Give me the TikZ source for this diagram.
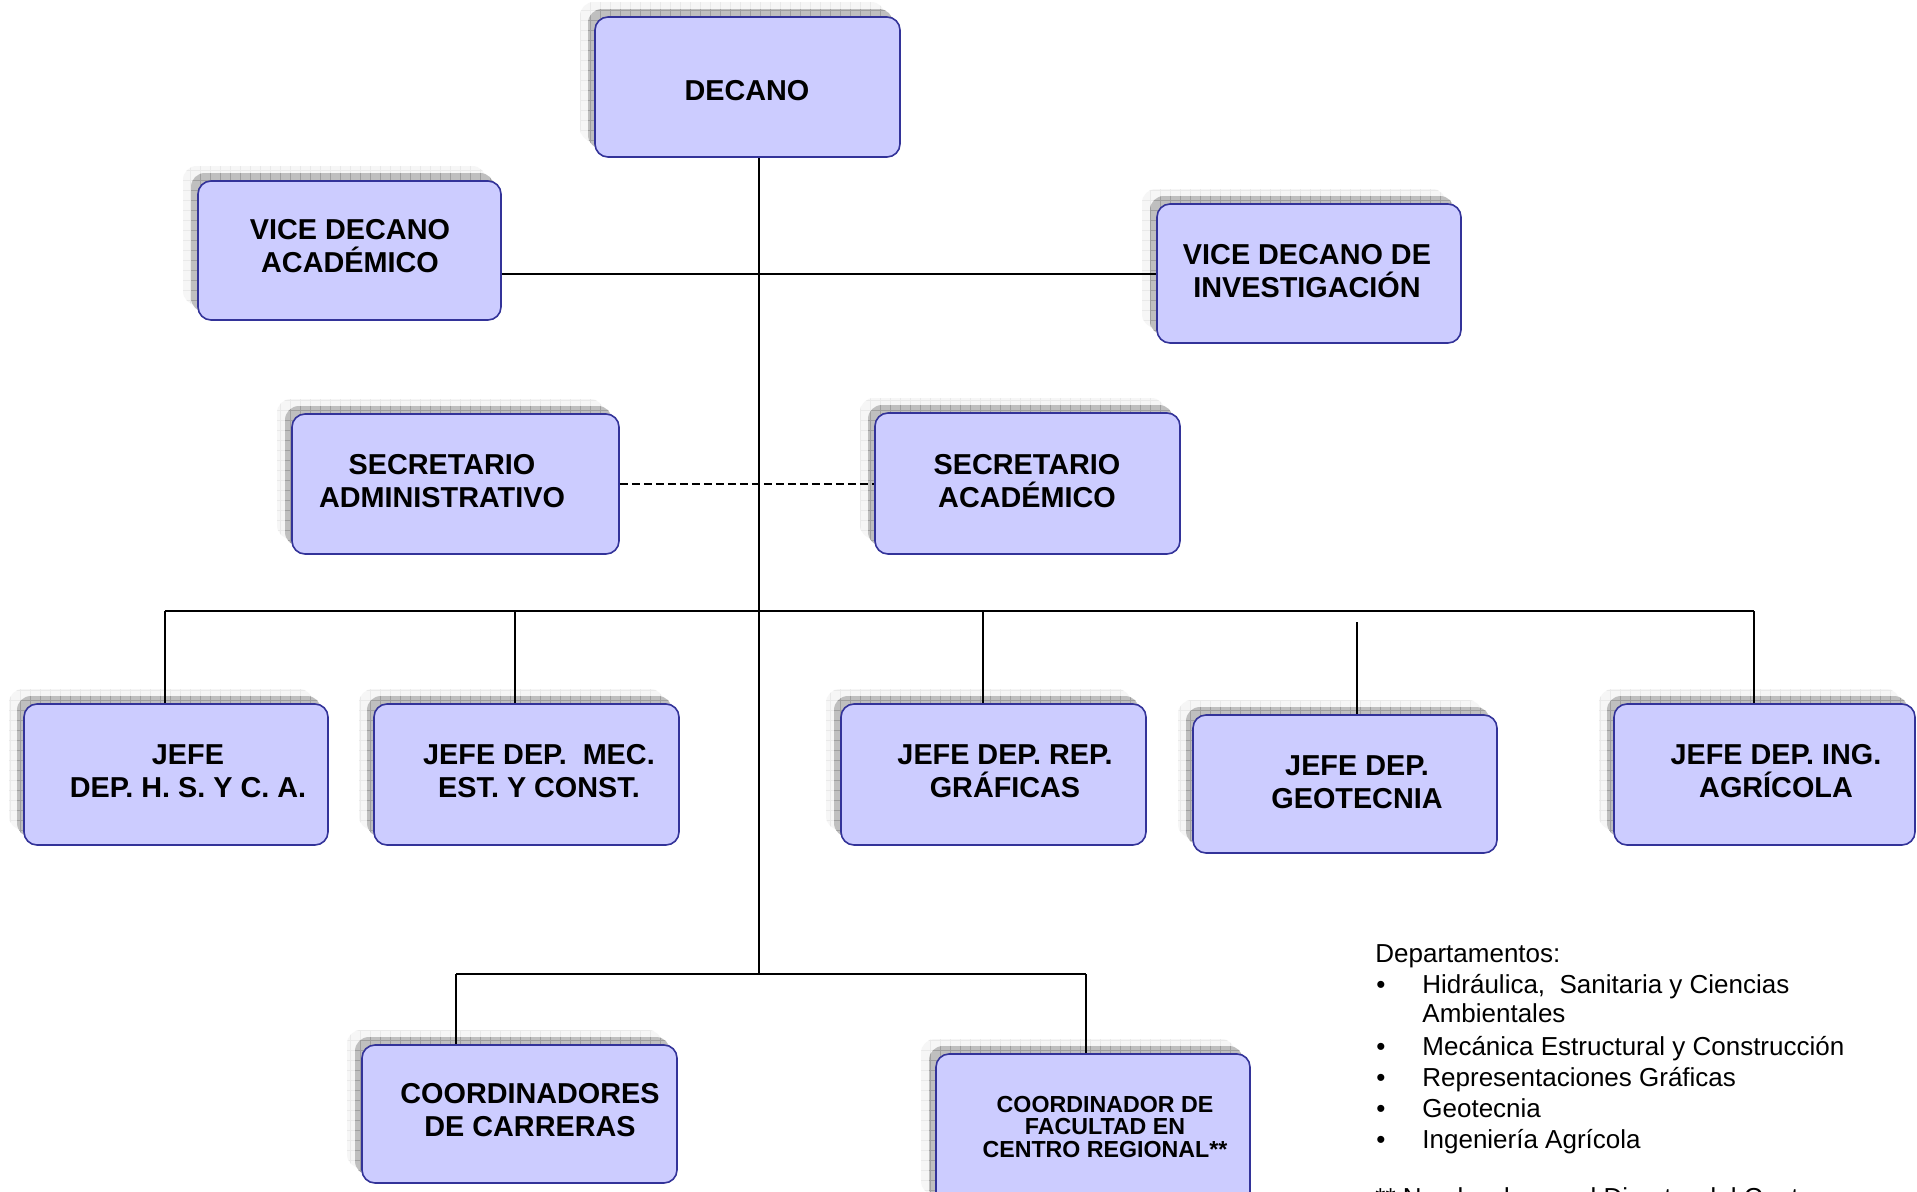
\documentclass[tikz,border=0pt]{standalone}
\usepackage{fontspec}
\setmainfont{Liberation Sans}
\usetikzlibrary{fit}
\frenchspacing
\definecolor{boxfill}{HTML}{CCCCFF}
\definecolor{boxline}{HTML}{333399}
\tikzset{
  orgbox/.style={draw=boxline, fill=boxfill, line width=0.8pt, rounded corners=6.5pt, inner sep=0pt},
  boxtext/.style={font=\bfseries\fontsize{14.4}{16.6}\selectfont, align=center, inner sep=0pt},
  smalltext/.style={font=\bfseries\fontsize{11.6}{11.4}\selectfont},
  conn/.style={line width=1pt, black},
  dashconn/.style={line width=1pt, black, dash pattern=on 4pt off 2pt},
  listtext/.style={font=\fontsize{13}{15}\selectfont, anchor=base west, inner sep=0pt},
}
\newcommand{\orgunit}[9]{%
  \begin{scope}
    \clip[rounded corners=7pt] ({#2-15},{#3-15}) rectangle ({#4-15},{#5-15});
    \fill[gray!7] ({#2-15},{#3-15}) rectangle ({#4-15},{#5-15});
    \draw[gray!17, line width=0.3pt, step=5pt] ({#2-15},{#5-15}) grid ({#4-15},{#3-15});
  \end{scope}
  \begin{scope}
    \clip[rounded corners=7pt] ({#2-7},{#3-8}) rectangle ({#4-7},{#5-8});
    \fill[gray!50] ({#2-7},{#3-8}) rectangle ({#4-7},{#5-8});
    \draw[gray!75, line width=0.3pt, step=5pt] ({#2-7},{#5-8}) grid ({#4-7},{#3-8});
  \end{scope}
  \node[orgbox, fit={({#2},{#3}) ({#4},{#5})}] (#1) {};
  \node[boxtext, #9] (#1t) at (#6,#7) {#8};
}
\begin{document}
\begin{tikzpicture}[x=0.5pt, y=-0.5pt]
\useasboundingbox (0,0) rectangle (1917,1192);
\fill[white] (0,0) rectangle (1917,1192);

\orgunit{dec}{595}{17}{900}{157}{747}{91}{DECANO}{}
\orgunit{vda}{198}{181}{501}{320}{350}{246}{VICE DECANO\\ACADÉMICO}{}
\orgunit{vdi}{1157}{204}{1461}{343}{1307}{271}{VICE DECANO DE\\INVESTIGACIÓN}{}
\orgunit{sadm}{292}{414}{619}{554}{442}{481}{SECRETARIO\\ADMINISTRATIVO}{}
\orgunit{sacad}{875}{413}{1180}{554}{1027}{481}{SECRETARIO\\ACADÉMICO}{}
\orgunit{ja}{24}{704}{328}{845}{188}{771}{JEFE\\DEP. H. S. Y C. A.}{}
\orgunit{jb}{374}{704}{679}{845}{539}{771}{JEFE DEP.\ \ MEC.\\EST. Y CONST.}{}
\orgunit{jc}{841}{704}{1146}{845}{1005}{771}{JEFE DEP. REP.\\GRÁFICAS}{}
\orgunit{jd}{1193}{715}{1497}{853}{1357}{782}{JEFE DEP.\\GEOTECNIA}{}
\orgunit{je}{1614}{704}{1915}{845}{1776}{771}{JEFE DEP. ING.\\AGRÍCOLA}{}
\orgunit{cc}{362}{1045}{677}{1183}{530}{1110}{COORDINADORES\\DE CARRERAS}{}
\orgunit{cf}{936}{1054}{1250}{1210}{1105}{1127}{COORDINADOR DE\\FACULTAD EN\\CENTRO REGIONAL**}{smalltext}

% connector helpers
\coordinate (tk) at (759,0);
\coordinate (vline) at (0,274);
\coordinate (sline) at (0,484);
\coordinate (xa) at (165,611);
\coordinate (xb) at (515,611);
\coordinate (xc) at (983,611);
\coordinate (xd) at (1357,622);
\coordinate (xe) at (1754,611);
\coordinate (ya) at (456,974);
\coordinate (yb) at (1086,974);

\draw[conn] (dec.south -| tk) -- (tk |- ya);
\draw[conn] (vda.east |- vline) -- (vdi.west |- vline);
\draw[dashconn] (sadm.east |- sline) -- (sacad.west |- sline);
\draw[conn] (xa) -- (xe);
\draw[conn] (xa) -- (ja.north -| xa);
\draw[conn] (xb) -- (jb.north -| xb);
\draw[conn] (xc) -- (jc.north -| xc);
\draw[conn] (xd) -- (jd.north -| xd);
\draw[conn] (xe) -- (je.north -| xe);
\draw[conn] (ya) -- (yb);
\draw[conn] (ya) -- (cc.north -| ya);
\draw[conn] (yb) -- (cf.north -| yb);

% legend
\node[listtext] (dep) at (1375,962) {Departamentos:};
\node[listtext] (b1) at (1376,993) {•};
\node[listtext] (l1) at (1422,993) {Hidráulica,\ \ Sanitaria y Ciencias};
\node[listtext] (l1b) at (1422,1022) {Ambientales};
\node[listtext] (b2) at (1376,1055) {•};
\node[listtext] (l2) at (1422,1055) {Mecánica Estructural y Construcción};
\node[listtext] (b3) at (1376,1086) {•};
\node[listtext] (l3) at (1422,1086) {Representaciones Gráficas};
\node[listtext] (b4) at (1376,1117) {•};
\node[listtext] (l4) at (1422,1117) {Geotecnia};
\node[listtext] (b5) at (1376,1148) {•};
\node[listtext] (l5) at (1422,1148) {Ingeniería Agrícola};
\node[listtext] (fn) at (1375,1206) {** Nombrado por el Director del Centro};
\end{tikzpicture}
\end{document}
